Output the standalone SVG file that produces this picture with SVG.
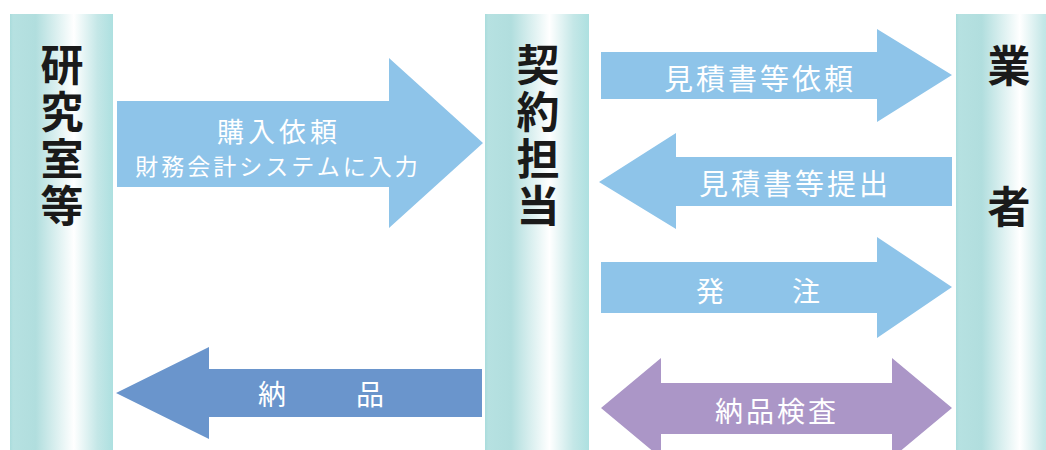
<svg xmlns="http://www.w3.org/2000/svg" width="1046" height="450" viewBox="0 0 1046 450">
<defs>
<linearGradient id="pillar" x1="0" y1="0" x2="1" y2="0">
<stop offset="0" stop-color="#a9dcdc"/>
<stop offset="0.03" stop-color="#b6e1e1"/>
<stop offset="0.25" stop-color="#b1dede"/>
<stop offset="0.62" stop-color="#ffffff"/>
<stop offset="0.85" stop-color="#c4e7e7"/>
<stop offset="1" stop-color="#ade0e0"/>
</linearGradient>
<style>
.pillar{fill:url(#pillar)}
.ptxt{font-family:"Noto Sans CJK JP","Noto Sans CJK SC",sans-serif;font-weight:700;font-size:43px;fill:#1a1a1a;text-anchor:middle;dominant-baseline:central}
.lb{fill:#8ec4e9}
.db{fill:#6a95cc}
.pu{fill:#ab96c7}
.atxt{font-family:"Noto Sans CJK JP","Noto Sans CJK SC",sans-serif;font-size:28px;fill:#ffffff;text-anchor:middle;dominant-baseline:central}
</style>
</defs>
<g id="node-lab">
<rect class="pillar" x="10" y="14" width="103" height="436"/>
<text class="ptxt"><tspan x="62" y="62">研</tspan><tspan x="62" y="109">究</tspan><tspan x="62" y="156">室</tspan><tspan x="62" y="203">等</tspan></text>
</g>
<g id="node-contract">
<rect class="pillar" x="485" y="14" width="104" height="436"/>
<text class="ptxt"><tspan x="538" y="62">契</tspan><tspan x="538" y="109">約</tspan><tspan x="538" y="156">担</tspan><tspan x="538" y="203">当</tspan></text>
</g>
<g id="node-vendor">
<rect class="pillar" x="956" y="14" width="103" height="436"/>
<text class="ptxt"><tspan x="1009" y="63">業</tspan><tspan x="1009" y="204">者</tspan></text>
</g>
<g id="connectors">
<g id="c-request">
<polygon class="lb" points="117,101 389,101 389,58 483,143 389,228 389,187 117,187"/>
<text class="atxt" x="279" y="130" style="font-size:27px;letter-spacing:4px">購入依頼</text>
<text class="atxt" x="278" y="165" style="font-size:23px;letter-spacing:3px">財務会計システムに入力</text>
</g>
<g id="c-delivery">
<polygon class="db" points="116,393 209,347 209,369 482,369 482,417 209,417 209,439"/>
<text class="atxt" x="272" y="393">納</text>
<text class="atxt" x="370" y="393">品</text>
</g>
<g id="c-quote-req">
<polygon class="lb" points="601,52 877,52 877,29 952,75 877,122 877,99 601,99"/>
<text class="atxt" x="760" y="77" style="font-size:29px;letter-spacing:3px">見積書等依頼</text>
</g>
<g id="c-quote-sub">
<polygon class="lb" points="599,182 676,133 676,157 952,157 952,206 676,206 676,229"/>
<text class="atxt" x="795" y="182" style="font-size:29px;letter-spacing:3px">見積書等提出</text>
</g>
<g id="c-order">
<polygon class="lb" points="601,262 877,262 877,237 952,287 877,338 877,313 601,313"/>
<text class="atxt" x="710" y="290">発</text>
<text class="atxt" x="806" y="290">注</text>
</g>
<g id="c-inspect">
<polygon class="pu" points="601,408 661,358 661,383 892,383 892,358 952,408 892,458 892,434 661,434 661,458"/>
<text class="atxt" x="777" y="410" style="letter-spacing:3px">納品検査</text>
</g>
</g>
</svg>
